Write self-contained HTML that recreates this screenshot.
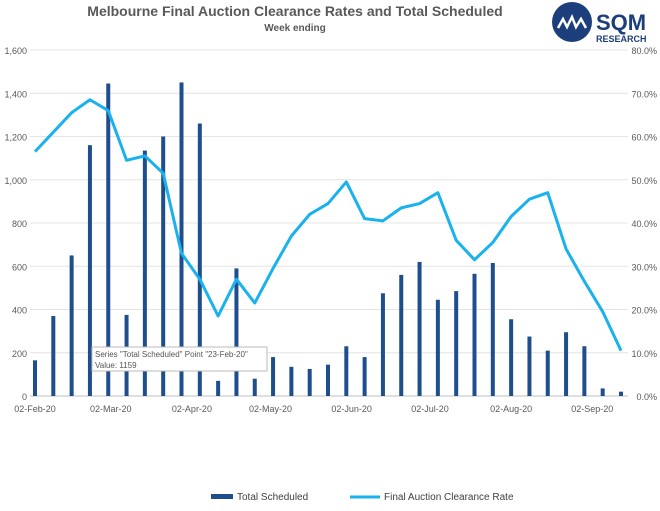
<!DOCTYPE html>
<html><head><meta charset="utf-8"><style>
body{margin:0;background:#fff;width:660px;height:506px;overflow:hidden;font-family:"Liberation Sans",sans-serif}
</style></head><body>
<svg id="c" width="660" height="506" xmlns="http://www.w3.org/2000/svg">
<text x="295" y="16" text-anchor="middle" font-size="14" font-weight="bold" fill="#595959">Melbourne Final Auction Clearance Rates and Total Scheduled</text>
<text x="295" y="31" text-anchor="middle" font-size="10" font-weight="bold" fill="#595959">Week ending</text>
<g>
<circle cx="572" cy="22" r="20" fill="#1c3f7c"/>
<polyline points="558,28 563,19 567,27 572,17 576,27 581,19 586,28" fill="none" stroke="#fff" stroke-width="2.5"/>
<text x="596" y="30" font-size="22" font-weight="bold" fill="#1c3f7c">SQM</text>
<text x="596" y="42" font-size="9" font-weight="bold" fill="#1c3f7c">RESEARCH</text>
</g>
<g id="grid"></g><g id="bars"></g><g id="line"></g><g id="axes"></g>
<g>
<rect x="92" y="347" width="175" height="24" fill="#fff" stroke="#bbb"/>
<text x="95" y="357" font-size="8" fill="#555">Series "Total Scheduled" Point "23-Feb-20"</text>
<text x="95" y="368" font-size="8" fill="#555">Value: 1159</text>
</g>
<g>
<rect x="211" y="494" width="22" height="5" fill="#1f4e8c"/>
<text x="237" y="500" font-size="10" fill="#404040">Total Scheduled</text>
<line x1="350" y1="497" x2="380" y2="497" stroke="#1ab2ee" stroke-width="3"/>
<text x="384" y="500" font-size="10" fill="#404040">Final Auction Clearance Rate</text>
</g>
</svg>
<script>
const scheduled=[165,370,650,1160,1445,375,1135,1200,1450,1260,70,590,80,180,135,125,145,230,180,475,560,620,445,485,565,615,355,275,210,295,230,35,20];
const clearance=[56.5,61,65.5,68.5,66,54.5,55.5,51.5,33,27,18.5,27,21.5,29.5,37,42,44.5,49.5,41,40.5,43.5,44.5,47,36,31.5,35.5,41.5,45.5,47,34,26.5,19.5,10.5];
const leftTicks=[0,200,400,600,800,1000,1200,1400,1600];
const rightTicks=[0,10,20,30,40,50,60,70,80];
const dateLabels=["02-Feb-20","02-Mar-20","02-Apr-20","02-May-20","02-Jun-20","02-Jul-20","02-Aug-20","02-Sep-20"];
const dateWeeks=[0,4.14,8.57,12.86,17.29,21.57,26,30.43];
const NS="http://www.w3.org/2000/svg";
const X0=35,X1=621,Y0=396,Y1=50;
const xs=i=>X0+i*(X1-X0)/(scheduled.length-1);
const yl=v=>Y0-v/1600*(Y0-Y1);
const yr=v=>Y0-v/80*(Y0-Y1);
function mk(p,t,a){const e=document.createElementNS(NS,t);for(const k in a)e.setAttribute(k,a[k]);p.appendChild(e);return e;}
const grid=document.getElementById('grid'),axes=document.getElementById('axes');
leftTicks.forEach((v,i)=>{
const g=mk(grid,'line',{x1:30,x2:628,y1:yl(v),y2:yl(v),stroke:v?'#e4e4e4':'#bfbfbf','stroke-width':1});


const t=mk(axes,'text',{x:27,y:yl(v)+4,'text-anchor':'end','font-size':9,fill:'#595959'});
t.textContent=v.toLocaleString('en-US');


});
rightTicks.forEach(v=>{
const t=mk(axes,'text',{x:657,y:yr(v)+4,'text-anchor':'end','font-size':9,fill:'#595959'});
t.textContent=v.toFixed(1)+'%';


});
dateLabels.forEach((d,i)=>{
const t=mk(axes,'text',{x:xs(dateWeeks[i]),y:412,'text-anchor':'middle','font-size':9,fill:'#595959'});
t.textContent=d;


});
const bars=document.getElementById('bars');
scheduled.forEach((v,i)=>{
const r=mk(bars,'rect',{x:xs(i)-2,y:yl(v),width:4,height:Y0-yl(v),fill:'#1f4e8c'});


});
const pl=mk(document.getElementById('line'),'polyline',{points:clearance.map((v,i)=>xs(i)+','+yr(v)).join(' '),fill:'none',stroke:'#1ab2ee','stroke-width':3,'stroke-linejoin':'round'});


</script>
</body></html>
